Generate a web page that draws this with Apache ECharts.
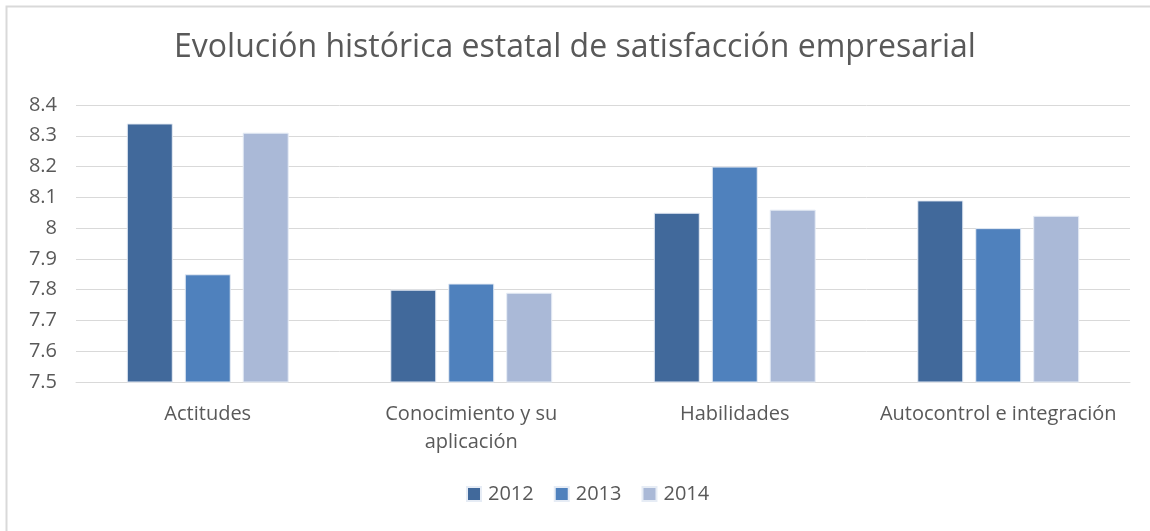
<!DOCTYPE html>
<html>
<head>
<meta charset="utf-8">
<script src="https://cdn.jsdelivr.net/npm/echarts@6/dist/echarts.min.js"></script>
<style>
    html, body { margin: 0; padding: 0; background: #fff; }
    #chart { width: 1150px; height: 531px; }
</style>
</head>
<body>
<div id="chart"></div>
<script>
var categorias = ['Actitudes', 'Conocimiento y su\naplicación', 'Habilidades', 'Autocontrol e integración'];
var anios = ['2012', '2013', '2014'];
var v2012 = [8.34, 7.80, 8.05, 8.09];
var v2013 = [7.85, 7.82, 8.20, 8.00];
var v2014 = [8.31, 7.79, 8.06, 8.04];

var fuente = 'Open Sans';
var gris = '#595959';

var myChart = echarts.init(document.getElementById('chart'));
var option = {
    animation: false,
    color: ['#41699B', '#4F81BD', '#AAB9D7'],
    title: {
        text: 'Evolución histórica estatal de satisfacción empresarial',
        left: 'center',
        top: 27,
        textStyle: {
            color: gris,
            fontFamily: fuente,
            fontSize: 32,
            fontWeight: 'normal'
        }
    },
    graphic: [{
        type: 'rect',
        shape: {x: 6.5, y: 6.5, width: 1160, height: 560},
        style: {fill: 'none', stroke: '#d9d9d9', lineWidth: 2},
        silent: true
    }],
    legend: {
        data: anios,
        bottom: 22,
        left: 461,
        itemWidth: 14,
        itemHeight: 14,
        itemGap: 20,
        icon: 'rect',
        textStyle: {
            color: gris,
            fontFamily: fuente,
            fontSize: 20,
            padding: [0, 0, 0, 2]
        }
    },
    grid: {
        left: 76,
        right: 20,
        top: 105,
        bottom: 149
    },
    xAxis: {
        type: 'category',
        data: categorias,
        axisTick: {show: false},
        axisLine: {lineStyle: {color: '#d9d9d9', width: 1}},
        axisLabel: {
            interval: 0,
            hideOverlap: false,
            color: gris,
            fontFamily: fuente,
            fontSize: 20,
            margin: 18,
            lineHeight: 28
        }
    },
    yAxis: {
        type: 'value',
        min: 7.5,
        max: 8.4,
        interval: 0.1,
        axisLine: {show: false},
        axisTick: {show: false},
        splitLine: {lineStyle: {color: '#d9d9d9', width: 1}},
        axisLabel: {
            color: gris,
            fontFamily: fuente,
            fontSize: 20,
            margin: 19,
            formatter: function (v) {
                return String(Math.round(v * 10) / 10);
            }
        }
    },
    series: [
        {name: '2012', type: 'bar', data: v2012, barWidth: 46, barGap: '26%', itemStyle: {borderColor: '#e6ecf5', borderWidth: 1}},
        {name: '2013', type: 'bar', data: v2013, barWidth: 46, barGap: '26%', itemStyle: {borderColor: '#e6ecf5', borderWidth: 1}},
        {name: '2014', type: 'bar', data: v2014, barWidth: 46, barGap: '26%', itemStyle: {borderColor: '#e6ecf5', borderWidth: 1}}
    ]
};
myChart.setOption(option);
</script>
</body>
</html>
